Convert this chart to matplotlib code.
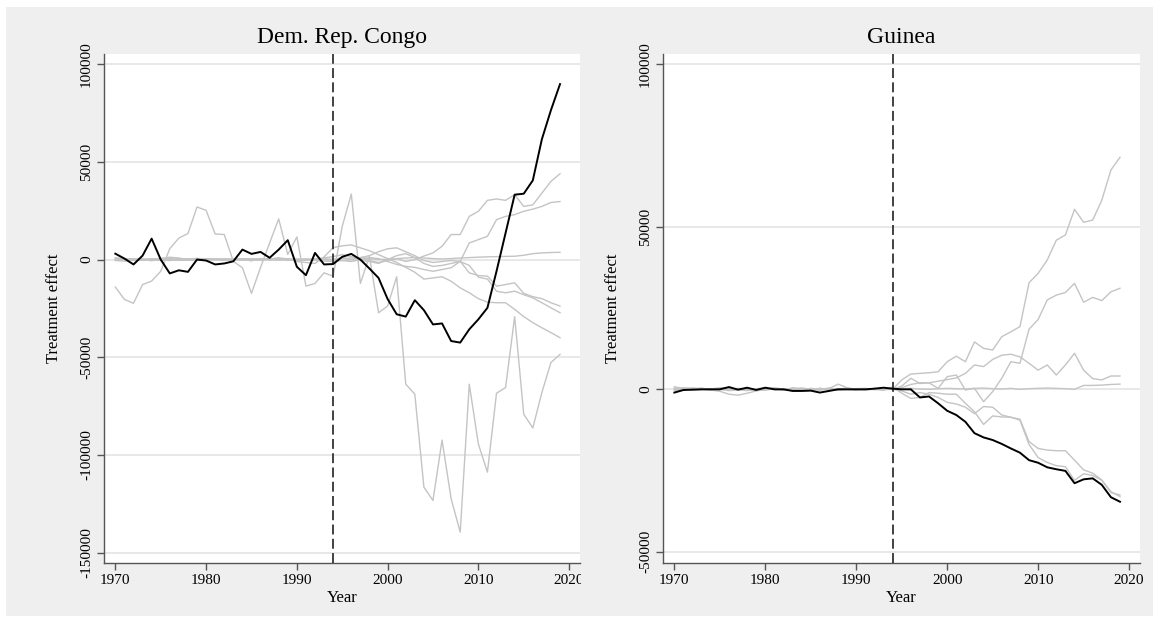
import matplotlib
matplotlib.use("Agg")
import matplotlib.pyplot as plt
from matplotlib.patches import Rectangle
from matplotlib.transforms import Bbox, TransformedBbox

plt.rcParams['font.family'] = ['Liberation Serif', 'DejaVu Serif']

years = list(range(1970, 2020))
treat_year = 1994

# ---- Dem. Rep. Congo ----
drc_treated = [3000, 500, -2500, 2000, 10700, 0, -7100, -5500, -6300, 0,
               -500, -2500, -2000, -900, 5100, 2900, 3900, 900, 5100, 9900,
               -3700, -8000, 3400, -2500, -2300, 1400, 2900, 0, -4600, -9400,
               -20200, -28000, -29200, -20800, -25900, -33200, -32700, -41700, -42500, -35700,
               -30600, -24700, -6000, 13600, 33200, 33700, 40500, 61600, 76500, 89800]

drc_placebo_1 = [-14100, -20400, -22400, -12800, -11000, -6000, 5600, 11000, 13300, 26900,
                 25200, 13100, 12800, -900, -4200, -17300, -4000, 8500, 20800, 2600,
                 11600, -13600, -12200, -6800, -8500, 17000, 33500, -12200, 1700, -27200,
                 -23800, -8800, -63800, -68900, -116500, -123300, -92400, -122400, -139500, -63800,
                 -94400, -108800, -68400, -65500, -29200, -79100, -86200, -68000, -52700, -48500]
drc_placebo_2 = [600, 200, -300, 100, 400, -200, -500, 0, 300, 600,
                 200, -100, 400, 0, -300, 200, 500, -200, 0, 400,
                 100, -400, 300, 900, 1500, 2500, 1500, 500, -500, -1500,
                 -500, 500, -1000, 0, 1800, 3400, 6800, 12800, 12800, 22100,
                 24700, 30300, 31000, 30300, 33200, 27200, 28000, 34000, 40000, 43900]
drc_placebo_3 = [-500, -800, -300, 0, -600, 200, 300, -400, -200, 100,
                 -300, 200, -100, 300, 0, -500, 100, 400, -300, 200,
                 -200, 100, -400, -300, 0, -500, -1000, 0, 1000, 500,
                 -1000, -2500, -3500, -4000, -5100, -6000, -5100, -4200, -900, 8500,
                 10200, 11900, 20400, 22100, 23000, 24700, 25800, 27200, 29200, 29700]
drc_placebo_4 = [200, 500, 100, -400, 0, 600, 300, 100, -300, -100,
                 400, 0, -200, 200, 500, 100, -100, 300, 600, -200,
                 0, 300, 100, 400, 0, 1000, 0, 1000, 2000, 4000,
                 5500, 6000, 4000, 2000, -500, -1500, -1000, -500, -900, -6800,
                 -8200, -8500, -13600, -12800, -11900, -17300, -19000, -20000, -22100, -23800]
drc_placebo_5 = [-200, 0, 400, 300, -100, -300, 0, 500, 200, -400,
                 0, 300, 200, -300, 100, 400, -200, 0, 300, 100,
                 -500, 0, -300, -800, -1000, -500, 0, -500, -1000, -2000,
                 0, 2000, 3000, 1000, -2000, -3500, -3000, -2000, -1000, -3000,
                 -9000, -10000, -16200, -17000, -16200, -18000, -19600, -22100, -24700, -27200]
drc_placebo_6 = [900, 400, 0, -200, 300, 500, 1200, 800, 0, -300,
                 500, 200, -400, 100, 0, -600, 400, 200, 900, 300,
                 -1000, -1500, -2000, 1400, 6100, 7000, 7500, 6000, 4500, 2500,
                 500, -1500, -4000, -6500, -10000, -9400, -8800, -11100, -14500, -17000,
                 -20000, -21800, -22100, -22100, -25500, -29200, -32300, -34900, -37400, -40000]
drc_placebo_7 = [0, 300, -200, 200, -100, 0, 400, -300, 100, 200,
                 -200, 0, 100, -100, 300, 0, -200, 100, 0, -300,
                 200, 0, 100, 200, 0, 500, 800, 1000, 500, 0,
                 200, 500, 800, 1000, 800, 500, 300, 500, 800, 1000,
                 1200, 1400, 1500, 1600, 1700, 2200, 3000, 3400, 3600, 3700]

# ---- Guinea ----
gui_treated = [-1000, -200, -100, 0, 0, 0, 700, -100, 500, -200,
               500, 0, 0, -500, -500, -400, -1000, -500, 0, 0,
               0, 0, 200, 500, 200, 0, 0, -2500, -2200, -4300,
               -6600, -7900, -10000, -13500, -14800, -15600, -16800, -18200, -19500, -21800,
               -22600, -24000, -24600, -25100, -28900, -27700, -27400, -29400, -33200, -34600]

gui_placebo_1 = [800, 200, 0, 300, -200, -600, -1500, -1800, -1200, -500,
                 0, 300, -200, 0, 400, 0, -300, 200, 1600, 500,
                 0, -200, 300, 200, 0, 2900, 4700, 4900, 5100, 5400,
                 8500, 10200, 8500, 14600, 12600, 12100, 16200, 17700, 19300, 32800,
                 35700, 39800, 45900, 47500, 55400, 51400, 52100, 58200, 67500, 71400]
gui_placebo_2 = [-300, 0, 400, 200, 100, 500, 300, 0, -400, 200,
                 400, 0, -300, 500, 200, -200, 300, 0, 100, 400,
                 -300, 200, 0, 300, 0, 1000, 3400, 1800, 2000, 300,
                 3900, 4400, -200, 300, -3800, -700, 3400, 8500, 8000, 18500,
                 21500, 27500, 29000, 29800, 32600, 26800, 28300, 27300, 30000, 31100]
gui_placebo_3 = [200, 500, 300, 0, -300, 200, 400, 0, 200, -100,
                 300, 500, 0, -200, 300, 100, 0, 400, -200, 0,
                 200, 300, -100, 400, 0, 500, 1500, 2000, 2000, 2500,
                 3000, 3500, 4900, 7500, 7000, 9200, 10500, 10800, 10000, 8000,
                 5900, 7500, 4400, 7500, 11100, 5900, 3300, 2900, 4100, 4100]
gui_placebo_4 = [0, -200, 100, 300, 0, -100, 200, 0, -300, 0,
                 200, -100, 100, 0, -200, 300, 0, -100, 200, 0,
                 -200, 100, 0, -100, 0, 200, 300, 100, 0, 200,
                 300, 200, 100, 300, 400, 200, 100, 300, 0, 200,
                 300, 400, 300, 200, 0, 1200, 1200, 1300, 1500, 1600]
gui_placebo_5 = [-200, 0, -300, -100, 200, 0, -400, -200, 100, 0,
                 -300, 200, 0, -200, 100, -100, 0, 200, -300, 0,
                 100, -200, 0, -300, 800, -1200, -2800, -2500, -1000, -1200,
                 -1500, -1500, -4300, -6900, -10800, -8200, -8500, -8600, -9200, -16100,
                 -18200, -18700, -18900, -18900, -21800, -24800, -25800, -27900, -31500, -33000]
gui_placebo_6 = [400, 100, 0, 300, -100, 200, 0, 300, 100, -200,
                 0, 300, 100, 0, 200, -100, 300, 0, 200, -100,
                 0, 200, 100, 0, 0, -500, -1500, -1000, -1500, -2500,
                 -4000, -4500, -5500, -7500, -5300, -5500, -7900, -8600, -9500, -17000,
                 -21000, -22500, -23500, -23800, -28000, -26000, -26500, -28000, -31800, -32500]

drc_placebos = [drc_placebo_1, drc_placebo_2, drc_placebo_3, drc_placebo_4,
                drc_placebo_5, drc_placebo_6, drc_placebo_7]
gui_placebos = [gui_placebo_1, gui_placebo_2, gui_placebo_3, gui_placebo_4,
                gui_placebo_5, gui_placebo_6]

drc_yticks = [-150000, -100000, -50000, 0, 50000, 100000]
gui_yticks = [-50000, 0, 50000, 100000]
xticks = [1970, 1980, 1990, 2000, 2010, 2020]

W, H = 1153, 621
fig = plt.figure(figsize=(W / 100, H / 100), dpi=100)
fig.patch.set_facecolor('white')
fig.add_artist(Rectangle((6 / W, 5 / H), 1 - 6 / W, (H - 12) / H,
                         transform=fig.transFigure, facecolor='#efefef',
                         edgecolor='none', zorder=-5))

ax1 = fig.add_axes([104 / W, 58 / H, 476 / W, 509 / H])
ax2 = fig.add_axes([663 / W, 58 / H, 477 / W, 509 / H])


def style_panel(ax, title, placebos, treated, yticks, ylim):
    for p in placebos:
        ax.plot(years, p, color='#c4c4c4', lw=1.0, zorder=2)
    ax.plot(years, treated, color='black', lw=1.4, zorder=4)
    ax.axvline(treat_year, color='#333333', lw=1.3, ls=(0, (5.5, 2.4)), zorder=3)

    ax.set_xlim(1968.75, 2021.2)
    ax.set_ylim(*ylim)
    ax.set_xticks(xticks)
    ax.set_yticks(yticks)
    ax.set_yticklabels([str(v) for v in yticks])
    ax.grid(axis='y', color='#e6e6e6', lw=1.3, zorder=0)
    ax.set_axisbelow(True)

    for s in ['top', 'right']:
        ax.spines[s].set_visible(False)
    for s in ['left', 'bottom']:
        ax.spines[s].set_color('#555555')
        ax.spines[s].set_linewidth(1.0)
    ax.tick_params(direction='out', length=5, width=1, color='#555555',
                   labelsize=11, pad=3)
    ax.tick_params(axis='y', labelrotation=90)
    for lbl in ax.get_yticklabels():
        lbl.set_va('center')

    ax.set_title(title, fontsize=17, pad=8)
    ax.set_xlabel('Year', fontsize=12, labelpad=2)
    ax.set_ylabel('Treatment effect', fontsize=12, labelpad=13)


style_panel(ax1, 'Dem. Rep. Congo', drc_placebos, drc_treated,
            drc_yticks, (-155300, 105200))
style_panel(ax2, 'Guinea', gui_placebos, gui_treated,
            gui_yticks, (-53450, 103200))

# the last year label of the left panel is cut at the panel edge
clip = TransformedBbox(Bbox([[0, 0], [581 / W, 1]]), fig.transFigure)
for t in ax1.xaxis.get_major_ticks():
    t.label1.set_clip_box(clip)
    t.label1.set_clip_on(True)

fig.savefig('out.png', dpi=100)
